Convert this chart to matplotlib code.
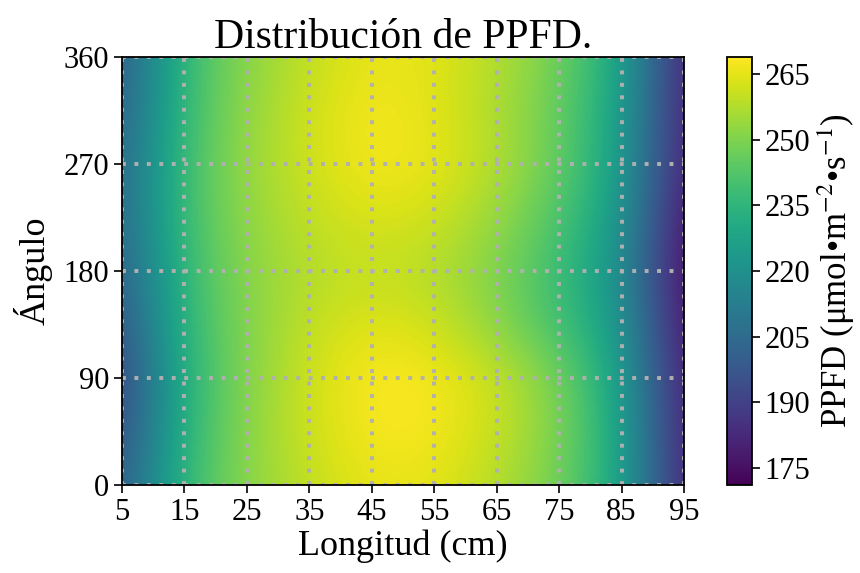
import numpy as np
import matplotlib
matplotlib.use("Agg")
import matplotlib.pyplot as plt

plt.rcParams['font.family'] = ['Liberation Serif', 'DejaVu Serif']
plt.rcParams['mathtext.fontset'] = 'stix'

# Measurement positions
longitud = [5, 15, 25, 35, 45, 55, 65, 75, 85, 95]          # cm
angulo = [0, 45, 90, 135, 180, 225, 270, 315, 360]         # degrees

# PPFD values (rows = angle, columns = longitud)
ppfd_0   = [198, 238, 252, 260, 266, 265, 258, 248, 230, 178]
ppfd_45  = [193, 236, 252, 262, 268, 268, 261, 250, 230, 177]
ppfd_90  = [190, 235, 251, 262, 269, 268, 261, 249, 228, 176]
ppfd_135 = [195, 237, 251, 260, 265, 262, 252, 240, 224, 174]
ppfd_180 = [200, 238, 252, 258, 260, 258, 250, 238, 221, 171]
ppfd_225 = [203, 240, 253, 260, 264, 262, 254, 242, 224, 174]
ppfd_270 = [203, 240, 254, 262, 268, 266, 258, 246, 227, 177]
ppfd_315 = [200, 239, 253, 262, 268, 265, 257, 246, 228, 178]
ppfd_360 = [198, 238, 252, 260, 266, 265, 258, 248, 230, 178]

x_ticks = [5, 15, 25, 35, 45, 55, 65, 75, 85, 95]
y_ticks = [0, 90, 180, 270, 360]
cbar_ticks = [175, 190, 205, 220, 235, 250, 265]

Z = np.array([ppfd_0, ppfd_45, ppfd_90, ppfd_135, ppfd_180,
              ppfd_225, ppfd_270, ppfd_315, ppfd_360], dtype=float)

fig = plt.figure(figsize=(8.6, 5.73), dpi=100)
ax = fig.add_axes([122/860, 1 - 485/573, (684-122)/860, (485-57)/573])
cax = fig.add_axes([727/860, 1 - 485/573, 25/860, (485-57)/573])

dx = (longitud[1] - longitud[0]) / 2
dy = (angulo[1] - angulo[0]) / 2
extent = [longitud[0] - dx, longitud[-1] + dx, angulo[0] - dy, angulo[-1] + dy]
im = ax.imshow(Z, origin='lower', extent=extent, aspect='auto',
               cmap='viridis', interpolation='bicubic',
               vmin=Z.min(), vmax=Z.max())
ax.set_xlim(longitud[0], longitud[-1])
ax.set_ylim(angulo[0], angulo[-1])

ax.set_xticks(x_ticks)
ax.set_yticks(y_ticks)
ax.tick_params(labelsize=22, length=6, width=1.2, pad=3)
ax.grid(True, color='#b0b0b0', linestyle=(0, (1, 2.2)), linewidth=2.8)
for s in ax.spines.values():
    s.set_linewidth(1.3)

ax.set_xlabel('Longitud (cm)', fontsize=26, labelpad=2)
ax.set_ylabel('Ángulo', fontsize=26, labelpad=8)
ax.set_title('Distribución de PPFD.', fontsize=30, pad=6)

cb = fig.colorbar(im, cax=cax, ticks=cbar_ticks)
cb.ax.tick_params(labelsize=22, length=6, width=1.2, pad=3)
cb.outline.set_linewidth(1.3)
cb.set_label('PPFD (μmol•m$^{-2}$•s$^{-1}$)', fontsize=25, labelpad=4)

fig.savefig('out.png', dpi=100)
